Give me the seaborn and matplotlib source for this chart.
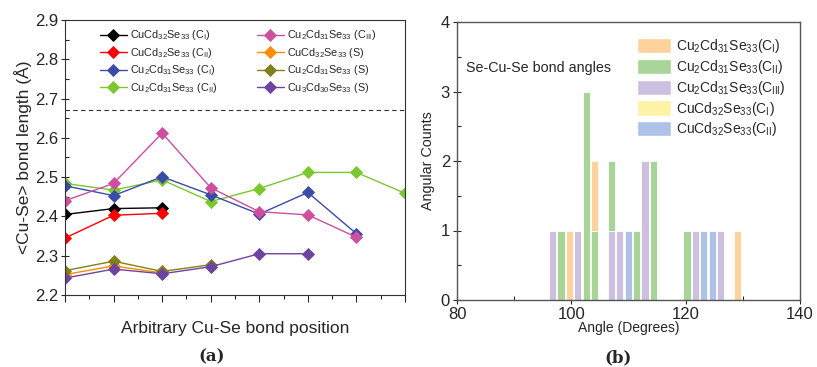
import numpy as np
import pandas as pd
import matplotlib
matplotlib.use("Agg")
import matplotlib.pyplot as plt
from matplotlib.patches import Patch
from matplotlib.ticker import MultipleLocator
import seaborn as sns

sns.set_style("ticks")
plt.rcParams['font.family'] = ['Liberation Sans', 'DejaVu Sans']
plt.rcParams['mathtext.fontset'] = 'custom'
plt.rcParams['mathtext.rm'] = 'Liberation Sans'
plt.rcParams['mathtext.it'] = 'Liberation Sans:italic'
plt.rcParams['mathtext.bf'] = 'Liberation Sans:bold'

# ---------------- Panel (a) data ----------------
line_labels = [
    r"CuCd$_{32}$Se$_{33}$ (C$_{\mathrm{I}}$)",
    r"CuCd$_{32}$Se$_{33}$ (C$_{\mathrm{II}}$)",
    r"Cu$_{2}$Cd$_{31}$Se$_{33}$ (C$_{\mathrm{I}}$)",
    r"Cu$_{2}$Cd$_{31}$Se$_{33}$ (C$_{\mathrm{II}}$)",
    r"Cu$_{2}$Cd$_{31}$Se$_{33}$ (C$_{\mathrm{III}}$)",
    r"CuCd$_{32}$Se$_{33}$ (S)",
    r"Cu$_{2}$Cd$_{31}$Se$_{33}$ (S)",
    r"Cu$_{3}$Cd$_{30}$Se$_{33}$ (S)",
]
line_colors = ["#000000", "#FF0000", "#3B4BA6", "#7CC62E",
               "#CC4FA0", "#FF8C00", "#808018", "#6E44A0"]

cucd32_ci = [2.405, 2.420, 2.422]
cucd32_cii = [2.345, 2.403, 2.408]
cu2cd31_ci = [2.478, 2.453, 2.501, 2.455, 2.406, 2.461, 2.356]
cu2cd31_cii = [2.484, 2.467, 2.493, 2.438, 2.471, 2.512, 2.512, 2.459]
cu2cd31_ciii = [2.440, 2.484, 2.612, 2.473, 2.412, 2.404, 2.347]
cucd32_s = [2.252, 2.274, 2.256]
cu2cd31_s = [2.262, 2.286, 2.260, 2.277]
cu3cd30_s = [2.243, 2.266, 2.254, 2.272, 2.305, 2.305]
series_a = [cucd32_ci, cucd32_cii, cu2cd31_ci, cu2cd31_cii,
            cu2cd31_ciii, cucd32_s, cu2cd31_s, cu3cd30_s]
draw_order = [3, 2, 4, 0, 1, 5, 6, 7]
ref_length = 2.67

# ---------------- Panel (b) data ----------------
hist_labels = [
    r"Cu$_{2}$Cd$_{31}$Se$_{33}$(C$_{\mathrm{I}}$)",
    r"Cu$_{2}$Cd$_{31}$Se$_{33}$(C$_{\mathrm{II}}$)",
    r"Cu$_{2}$Cd$_{31}$Se$_{33}$(C$_{\mathrm{III}}$)",
    r"CuCd$_{32}$Se$_{33}$(C$_{\mathrm{I}}$)",
    r"CuCd$_{32}$Se$_{33}$(C$_{\mathrm{II}}$)",
]
hist_colors = ["#FDD29C", "#A8D497", "#CDBFDF", "#FDF3A6", "#ADC2E6"]
angles_cu2_ci = [99.75, 104.25, 129.75]
counts_cu2_ci = [1, 2, 1]
angles_cu2_cii = [98.25, 102.75, 104.25, 107.25, 111.75, 114.75, 120.75]
counts_cu2_cii = [1, 3, 1, 2, 1, 2, 1]
angles_cu2_ciii = [96.75, 101.25, 107.25, 108.75, 113.25, 122.25, 126.75]
counts_cu2_ciii = [1, 1, 1, 1, 2, 1, 1]
angles_cu1_ci = []
counts_cu1_ci = []
angles_cu1_cii = [110.25, 123.75, 125.25]
counts_cu1_cii = [1, 1, 1]
hist_series = [(angles_cu2_ci, counts_cu2_ci), (angles_cu2_cii, counts_cu2_cii),
               (angles_cu2_ciii, counts_cu2_ciii), (angles_cu1_ci, counts_cu1_ci),
               (angles_cu1_cii, counts_cu1_cii)]
bin_width = 1.5
bin_range = (96.0, 131.25)

fig = plt.figure(figsize=(8.17, 3.67), dpi=100)
axa = fig.add_axes([65/817, 72/367, 340/817, 275/367])
axb = fig.add_axes([457/817, 67/367, 343/817, 278/367])

# ----- panel (a)
for i in draw_order:
    vals = series_a[i]
    sns.lineplot(x=np.arange(1, len(vals) + 1), y=vals, ax=axa, color=line_colors[i],
                 marker="D", markersize=5.8, markeredgewidth=0.6,
                 markeredgecolor=line_colors[i], linewidth=1.0, label=line_labels[i],
                 legend=False)
axa.axhline(ref_length, ls=(0, (4, 3)), color="#333333", lw=0.8)
axa.set_xlim(1, 8)
axa.set_ylim(2.2, 2.9)
axa.yaxis.set_major_locator(MultipleLocator(0.1))
axa.yaxis.set_minor_locator(MultipleLocator(0.05))
axa.xaxis.set_major_locator(MultipleLocator(1))
axa.xaxis.set_minor_locator(MultipleLocator(0.5))
axa.set_xticklabels([])
axa.tick_params(axis="y", which="major", direction="inout", length=6, width=0.8, labelsize=12, pad=2)
axa.tick_params(axis="y", which="minor", direction="in", length=3, width=0.8)
axa.tick_params(axis="x", which="major", direction="out", length=5, width=0.8)
axa.tick_params(axis="x", which="minor", direction="out", length=3, width=0.8)
axa.set_ylabel("<Cu-Se> bond length (Å)", fontsize=12.5, labelpad=2)
axa.set_xlabel("Arbitrary Cu-Se bond position", fontsize=12.5, labelpad=10)
for s in axa.spines.values():
    s.set_color("#333333")
    s.set_linewidth(0.8)
handles = {l.get_label(): l for l in axa.get_lines()}
leg = axa.legend([handles[l] for l in line_labels], line_labels, ncol=2, frameon=False,
                 fontsize=7.8, loc="upper left", bbox_to_anchor=(0.09, 0.985),
                 handlelength=2.5, handletextpad=0.3, columnspacing=3.6,
                 labelspacing=0.32, borderaxespad=0)

# ----- panel (b)
for (ang, cnt), col, lab in zip(hist_series, hist_colors, hist_labels):
    if len(ang) == 0:
        continue
    samples = np.repeat(np.asarray(ang, dtype=float), cnt)
    sns.histplot(x=samples, binwidth=bin_width, binrange=bin_range, shrink=0.86,
                 color=col, alpha=1, edgecolor="white", linewidth=0.6, ax=axb, label=lab)
axb.set_xlim(80, 140)
axb.set_ylim(0, 4)
axb.xaxis.set_major_locator(MultipleLocator(20))
axb.xaxis.set_minor_locator(MultipleLocator(10))
axb.yaxis.set_major_locator(MultipleLocator(1))
axb.yaxis.set_minor_locator(MultipleLocator(0.5))
axb.tick_params(axis="both", which="major", direction="inout", length=6, width=0.8, labelsize=12, pad=2)
axb.tick_params(axis="both", which="minor", direction="in", length=3, width=0.8)
axb.set_ylabel("Angular Counts", fontsize=10.3, labelpad=4)
axb.set_xlabel("Angle (Degrees)", fontsize=10, labelpad=-1)
for s in axb.spines.values():
    s.set_color("#555555")
    s.set_linewidth(1.0)
axb.text(0.026, 0.835, "Se-Cu-Se bond angles", transform=axb.transAxes, fontsize=10.3,
         va="center", ha="left")
patches = [Patch(facecolor=c, edgecolor="white", label=l) for c, l in zip(hist_colors, hist_labels)]
axb.legend(handles=patches, frameon=False, fontsize=10, loc="upper left",
           bbox_to_anchor=(0.51, 0.965), handlelength=2.4, handleheight=1.3,
           handletextpad=0.35, labelspacing=0.2, borderaxespad=0)

fig.text(212/817, 1 - 357/367, "(a)", fontsize=12, family="DejaVu Serif", ha="center", va="center",
         weight="bold")
fig.text(618/817, 1 - 358/367, "(b)", fontsize=12, family="DejaVu Serif", ha="center", va="center",
         weight="bold")

fig.savefig("out.png", dpi=100)
